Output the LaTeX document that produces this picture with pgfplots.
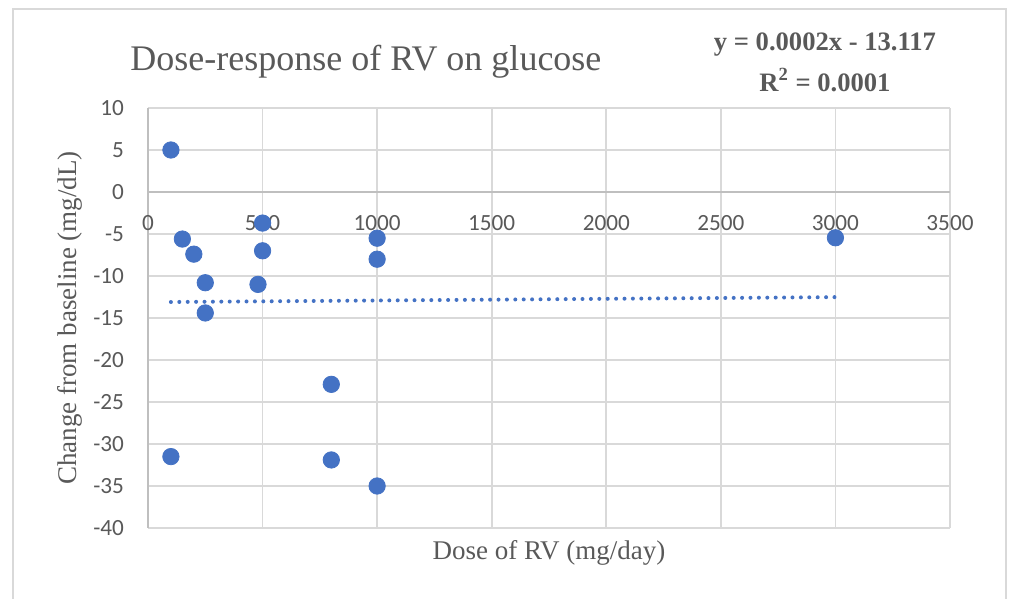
\documentclass[border=0pt]{standalone}
\usepackage{pgfplots}
\pgfplotsset{compat=1.18}
\usepackage{fontspec}
\setmainfont{Liberation Serif}
\newfontfamily\carlito{Carlito}
\definecolor{txt}{HTML}{595959}
\definecolor{gridc}{HTML}{D9D9D9}
\definecolor{axc}{HTML}{BFBFBF}
\definecolor{blu}{HTML}{4472C4}
\begin{document}
\begin{tikzpicture}
\begin{axis}[
  at={(0,0)}, anchor=south west,
  scale only axis, width=401pt, height=210pt,
  xmin=0, xmax=3500, ymin=-40, ymax=10,
  xtick={0,500,...,3500}, ytick={-40,-35,...,10},
  axis x line*=middle, axis y line*=left,
  hide obscured x ticks=false, hide obscured y ticks=false,
  axis line style={draw=axc, line width=0.8pt, -},
  major tick length=0pt,
  grid=major, major grid style={draw=gridc, line width=0.8pt},
  /pgf/number format/assume math mode=true,
  /pgf/number format/1000 sep={},
  ticklabel style={font=\carlito\fontsize{11.6}{12}\selectfont, text=txt},
  xticklabel style={anchor=north, yshift=-8pt},
  yticklabel style={anchor=east, xshift=-8.5pt},
  every axis x label/.style={at={(axis description cs:0.5,-0.0595)}, anchor=center, font=\fontsize{13.5}{14}\selectfont, text=txt},
  every axis y label/.style={at={(axis description cs:-0.0975,0.5)}, rotate=90, anchor=center, font=\fontsize{13.5}{14}\selectfont, text=txt},
  xlabel={Dose of RV (mg/day)},
  ylabel={Change from baseline (mg/dL)},
  clip=false,
]
\addplot[blu, line width=2pt, line cap=round, dash pattern=on 0pt off 4.2pt, forget plot]
  coordinates {(100,-13.097) (3000,-12.517)};
\addplot[only marks, mark=*, mark size=4.1pt, mark options={fill=blu, draw=blu}]
  coordinates {
  (100,5.0) (150,-5.6) (200,-7.4) (250,-10.8) (250,-14.4)
  (100,-31.5) (500,-3.7) (500,-7.0) (480,-11.0)
  (800,-22.9) (800,-31.9) (1000,-5.5) (1000,-8.0) (1000,-35.0)
  (3000,-5.45)
  };
\end{axis}
\node[text=txt, font=\fontsize{18}{20}\selectfont] at (109pt,233pt) {Dose-response of RV on glucose};
\node[text=txt, font=\bfseries\fontsize{13.3}{14}\selectfont] at (338.5pt,241.5pt) {y = 0.0002x - 13.117};
\node[text=txt, font=\bfseries\fontsize{13.3}{14}\selectfont] at (338.5pt,224pt) {R\textsuperscript{2} = 0.0001};
\draw[gridc, line width=1pt] (-67.5pt,-60pt) -- (-67.5pt,259.5pt) -- (429pt,259.5pt) -- (429pt,-60pt);
\pgfresetboundingbox
\path[use as bounding box] (-74pt,-35.5pt) rectangle (430.5pt,264pt);
\end{tikzpicture}
\end{document}
